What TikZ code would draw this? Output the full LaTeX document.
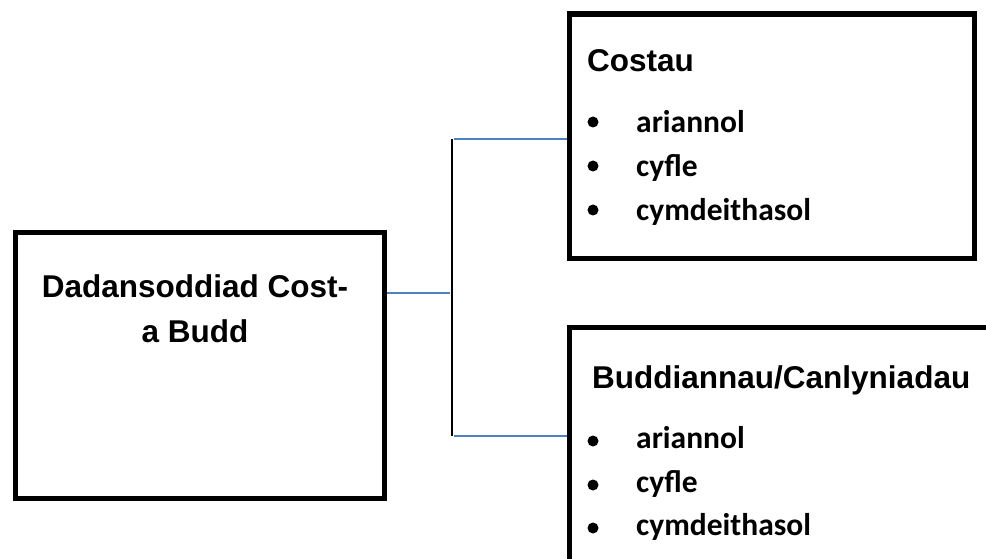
\documentclass[tikz,border=0pt]{standalone}
\usepackage{fontspec}
\newfontfamily\headfont{Liberation Sans}
\newfontfamily\itemfont{Carlito}
\definecolor{linkblue}{HTML}{4F81BD}
\begin{document}
\begin{tikzpicture}[x=1pt,y=-1pt,
  box/.style={draw=black,line width=5.5pt,inner sep=0pt},
  head/.style={font=\headfont\bfseries\fontsize{31.5}{44}\selectfont,inner sep=0pt,anchor=base west},
  item/.style={font=\itemfont\bfseries\fontsize{31.5}{44}\selectfont,inner sep=0pt,anchor=base west},
  bul/.style={circle,fill=black,minimum size=11pt,inner sep=0pt},
  blueline/.style={draw=linkblue,line width=1.6pt},
  blackline/.style={draw=black,line width=1.8pt}]
\useasboundingbox (0,0) rectangle (986,559);
\clip (0,0) rectangle (986,559);
% boxes
\node[box,minimum width=369pt,minimum height=266pt,anchor=north west] (main) at (12.5,229.5) {};
\node[box,minimum width=405pt,minimum height=244pt,anchor=north west] (costs) at (566.5,11.5) {};
\node[box,minimum width=440pt,minimum height=260pt,anchor=north west] (bens) at (566.5,324.5) {};
% main text
\node[font=\headfont\bfseries\fontsize{31.5}{45}\selectfont,align=center,inner sep=0pt,anchor=base] (maintxt) at (195,342) {Dadansoddiad Cost-\\a Budd};
% costs
\node[head] (ch) at (587,72) {Costau};
\node[bul] (cb1) at (593,122) {};
\node[bul] (cb2) at (593,166) {};
\node[bul] (cb3) at (593,210) {};
\node[item] (ci1) at (636,133) {ariannol};
\node[item] (ci2) at (636,177) {cyfle};
\node[item] (ci3) at (636,221) {cymdeithasol};
% benefits
\node[head] (bh) at (592,388) {Buddiannau/Canlyniadau};
\node[bul] (bb1) at (593,441) {};
\node[bul] (bb2) at (593,485) {};
\node[bul] (bb3) at (593,528) {};
\node[item] (bi1) at (636,448) {ariannol};
\node[item] (bi2) at (636,492) {cyfle};
\node[item] (bi3) at (636,535) {cymdeithasol};
% connectors
\coordinate (jm) at (450,293);
\coordinate (jt) at (452,139);
\coordinate (jb) at (452,436);
\draw[blueline] (main.east |- jm) -- (jm);
\draw[blackline] (jt) -- (jb);
\draw[blueline] ([xshift=2pt]jt) -- (costs.west |- jt);
\draw[blueline] ([xshift=2pt]jb) -- (bens.west |- jb);
\end{tikzpicture}
\end{document}
